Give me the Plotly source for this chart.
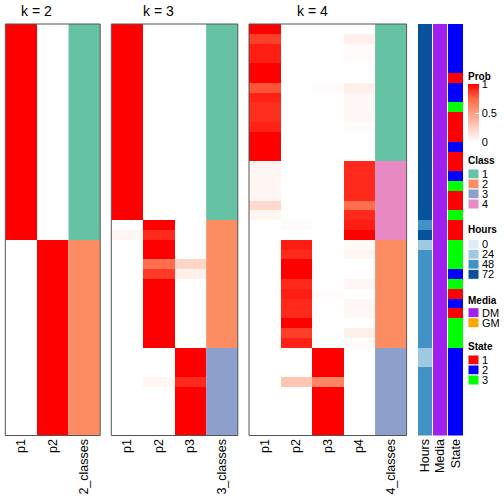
import plotly.graph_objects as go

# ---------------- data ----------------
N_ROWS = 42

# k = 2
k2_p1 = [1]*22 + [0]*20
k2_p2 = [0]*22 + [1]*20
k2_class = [1]*22 + [2]*20

# k = 3
k3_p1 = [1]*20 + [0, 0.05] + [0]*20
k3_p2 = ([0]*20 + [1, 0.9, 1, 1, 0.72, 0.86, 1, 1, 1, 1, 1, 1, 1]
         + [0, 0, 0, 0.05, 0, 0, 0, 0, 0])
k3_p3 = ([0]*24 + [0.22, 0.08] + [0]*7
         + [1, 1, 1, 0.9, 1, 1, 1, 1, 1])
k3_class = [1]*20 + [2]*13 + [3]*9

# k = 4
k4_p1 = ([1, 0.85, 0.93, 0.93, 1, 1, 0.8, 0.92, 0.89, 0.89, 0.92, 1, 1, 1]
         + [0.05, 0.05, 0.05, 0.05, 0.2, 0.05, 0, 0]
         + [0]*20)
k4_p2 = ([0]*14 + [0, 0, 0, 0, 0, 0, 0.02, 0]
         + [0.93, 0.9, 1, 1, 0.9, 0.93, 0.9, 0.9, 1, 0.85, 0.92]
         + [0, 0, 0, 0.3, 0, 0, 0, 0, 0])
k4_p3 = ([0]*6 + [0.02] + [0]*7
         + [0]*8
         + [0, 0, 0, 0, 0, 0.02, 0, 0, 0, 0, 0]
         + [1, 1, 1, 0.62, 1, 1, 1, 1, 1])
k4_p4 = ([0, 0.08, 0.02, 0.02, 0, 0, 0.08, 0.04, 0.04, 0.04, 0.02, 0, 0, 0]
         + [0.9, 0.9, 0.9, 0.9, 0.72, 0.9, 0.93, 1]
         + [0.03, 0.05, 0, 0, 0.04, 0, 0.04, 0.04, 0, 0.08, 0.02]
         + [0]*9)
k4_class = [1]*14 + [4]*8 + [2]*11 + [3]*9

# annotations
hours = [72]*20 + [48, 72, 24] + [48]*10 + [24, 24] + [48]*7
media = ["DM"]*42
state = ([2, 2, 2, 2, 2, 1, 2, 2, 3, 1, 1, 1, 2, 1, 1, 2, 3, 1, 1, 3, 1, 1,
          3, 3, 3, 2, 3, 1, 2, 1, 3, 3, 3] + [2]*9)

class_levels = [1, 2, 3, 4]
class_colors = ["#66C2A5", "#FC8D62", "#8DA0CB", "#E78AC3"]
hours_levels = [0, 24, 48, 72]
hours_colors = ["#DEEBF7", "#9ECAE1", "#4292C6", "#08519C"]
media_levels = ["DM", "GM"]
media_colors = ["#A020F0", "#FFA500"]
state_levels = [1, 2, 3]
state_colors = ["#FF0000", "#0000FF", "#00FF00"]

prob_scale = [[0, "#FFFFFF"], [0.25, "#FFCFBF"], [0.5, "#FF9E81"],
              [0.75, "#FF6846"], [1, "#FF0000"]]

# ---------------- helpers ----------------
W = H = 504
FONT = "Liberation Sans, Arial, Helvetica, sans-serif"
LABEL_SIZE = 12.5


def px_x(p):
    return p / W


def px_y(p):
    return 1 - p / H


def discrete(colors):
    n = len(colors)
    cs = []
    for i, c in enumerate(colors):
        cs.append([i / n, c])
        cs.append([(i + 1) / n, c])
    return cs


Y_TOP, Y_BOT = 24, 435.5
rows = list(range(N_ROWS))

fig = go.Figure()

panels = [
    ("x", [k2_p1, k2_p2], k2_class, "2_classes", (5.3, 100.2)),
    ("x2", [k3_p1, k3_p2, k3_p3], k3_class, "3_classes", (111.3, 237.8)),
    ("x3", [k4_p1, k4_p2, k4_p3, k4_p4], k4_class, "4_classes", (249, 406.6)),
]

layout_axes = {}
for idx, (xa, probs, cls, cls_label, (x0, x1)) in enumerate(panels):
    k = len(probs)
    z = [[probs[j][i] for j in range(k)] for i in rows]
    fig.add_trace(go.Heatmap(
        x=list(range(k)), y=rows, z=z, xaxis=xa, yaxis="y",
        colorscale=prob_scale, zmin=0, zmax=1,
        showscale=(idx == 0),
        colorbar=dict(x=px_x(468), xanchor="left", y=px_y(113.5), yanchor="middle",
                      len=58, lenmode="pixels", thickness=11, thicknessmode="pixels",
                      xpad=0, ypad=0, outlinewidth=0,
                      tickvals=[0, 0.5, 1], ticktext=["0", "0.5", "1"],
                      ticks="inside", tickcolor="white", ticklen=4,
                      tickfont=dict(size=11, family=FONT, color="black")),
    ))
    fig.add_trace(go.Heatmap(
        x=[k], y=rows, z=[[class_levels.index(c)] for c in cls],
        xaxis=xa, yaxis="y", colorscale=discrete(class_colors),
        zmin=-0.5, zmax=len(class_colors) - 0.5, showscale=False,
    ))
    key = "xaxis" if xa == "x" else "xaxis" + xa[1:]
    layout_axes[key] = dict(
        domain=[px_x(x0), px_x(x1)], anchor="y", range=[-0.5, k + 0.5],
        tickvals=list(range(k + 1)),
        ticktext=[f"p{j+1}" for j in range(k)] + [cls_label],
        tickangle=-90, ticks="", showgrid=False, zeroline=False, showline=False,
        automargin=False,
        tickfont=dict(size=LABEL_SIZE, family=FONT, color="black"), fixedrange=True,
    )
    fig.add_shape(type="rect", xref=f"{xa} domain", yref="y domain",
                  x0=0, x1=1, y0=0, y1=1, line=dict(color="#555555", width=1))
    # title centred over the probability columns
    fig.add_annotation(x=(k - 1) / 2, xref=xa, y=px_y(10.5), yref="paper",
                       text=f"k = {k}", showarrow=False, xanchor="center",
                       yanchor="middle", font=dict(size=14, family=FONT, color="black"))

annos = [
    ("x4", "Hours", [hours_levels.index(v) for v in hours], hours_colors, (418, 432)),
    ("x5", "Media", [media_levels.index(v) for v in media], media_colors, (433, 447)),
    ("x6", "State", [state_levels.index(v) for v in state], state_colors, (448, 463)),
]
for xa, name, codes, colors, (x0, x1) in annos:
    fig.add_trace(go.Heatmap(
        x=[0], y=rows, z=[[c] for c in codes], xaxis=xa, yaxis="y",
        colorscale=discrete(colors), zmin=-0.5, zmax=len(colors) - 0.5,
        showscale=False,
    ))
    layout_axes["xaxis" + xa[1:]] = dict(
        domain=[px_x(x0), px_x(x1)], anchor="y", range=[-0.5, 0.5],
        tickvals=[0], ticktext=[name], tickangle=-90, ticks="",
        showgrid=False, zeroline=False, showline=False, automargin=False,
        tickfont=dict(size=LABEL_SIZE, family=FONT, color="black"), fixedrange=True,
    )

# ---------------- legends ----------------
LX0, LX1 = 468, 479


def legend_title(text, yc):
    fig.add_annotation(x=px_x(LX0 - 1), y=px_y(yc), xref="paper", yref="paper",
                       text=f"<b>{text}</b>", showarrow=False, xanchor="left",
                       yanchor="middle", height=10, borderpad=0,
                       font=dict(size=10, family=FONT, color="black"))


def legend_boxes(levels, colors, ytop):
    for i, (lv, c) in enumerate(zip(levels, colors)):
        y0 = ytop + 10 * i
        fig.add_shape(type="rect", xref="paper", yref="paper",
                      x0=px_x(LX0), x1=px_x(LX1), y0=px_y(y0), y1=px_y(y0 + 10),
                      fillcolor=c, line=dict(color="white", width=1))
        fig.add_annotation(x=px_x(481), y=px_y(y0 + 5), xref="paper", yref="paper",
                           text=str(lv), showarrow=False, xanchor="left",
                           yanchor="middle", height=10, borderpad=0,
                           font=dict(size=11, family=FONT, color="black"))


legend_title("Prob", 76)
legend_title("Class", 160)
legend_boxes(class_levels, class_colors, 169)
legend_title("Hours", 229)
legend_boxes(hours_levels, hours_colors, 239.3)
legend_title("Media", 299.5)
legend_boxes(media_levels, media_colors, 307.7)
legend_title("State", 346)
legend_boxes(state_levels, state_colors, 355)

fig.update_layout(
    width=W, height=H, margin=dict(l=0, r=0, t=0, b=0, autoexpand=False),
    paper_bgcolor="white", plot_bgcolor="white", showlegend=False,
    yaxis=dict(domain=[px_y(Y_BOT), px_y(Y_TOP)], range=[N_ROWS - 0.5, -0.5],
               visible=False, anchor="x", fixedrange=True, automargin=False),
    **layout_axes,
)

# remove the default page margin so the 504x504 figure fills the window
fig.write_html(
    "out.html",
    config={"displayModeBar": False},
    post_script="document.body.style.margin='0';document.body.style.overflow='hidden';",
)
